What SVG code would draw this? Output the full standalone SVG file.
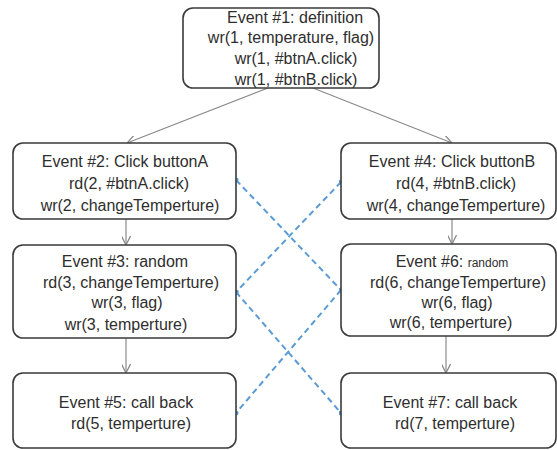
<svg xmlns="http://www.w3.org/2000/svg" width="557" height="450" viewBox="0 0 557 450">
  <style>
    .box { fill: #ffffff; stroke: #3a3a3a; stroke-width: 1.6; }
    .lbl { font-family: "Liberation Sans", Arial, sans-serif; font-size: 16px; fill: #2e2e2e; text-anchor: middle; }
    .small { font-size: 12px; }
    .flow { fill: none; stroke: #8a8a8a; stroke-width: 1.2; marker-end: url(#vee); }
    .dep { fill: none; stroke: #5b9bd5; stroke-width: 2; stroke-dasharray: 6 4; marker-start: url(#dot); marker-end: url(#dot); }
  </style>
  <defs>
    <marker id="vee" viewBox="0 0 10 10" refX="10" refY="5" markerWidth="9" markerHeight="9" markerUnits="userSpaceOnUse" orient="auto">
      <path d="M0,0 L10,5 L0,10" fill="none" stroke="#8a8a8a" stroke-width="1.4"/>
    </marker>
    <marker id="dot" viewBox="0 0 10 10" refX="5" refY="5" markerWidth="5" markerHeight="5" markerUnits="userSpaceOnUse">
      <circle cx="5" cy="5" r="5" fill="#5b9bd5"/>
    </marker>
  </defs>

  <g id="connectors">
    <line class="flow" x1="268" y1="88" x2="127" y2="143"/>
    <line class="flow" x1="313" y1="88" x2="452" y2="143"/>
    <line class="flow" x1="126" y1="219" x2="126" y2="245"/>
    <line class="flow" x1="126" y1="338" x2="126" y2="373"/>
    <line class="flow" x1="452" y1="219" x2="452" y2="244"/>
    <line class="flow" x1="446" y1="336" x2="446" y2="373"/>
    <line class="dep" x1="236" y1="180" x2="341" y2="290"/>
    <line class="dep" x1="341" y1="182" x2="236" y2="292"/>
    <line class="dep" x1="236" y1="292" x2="341" y2="413"/>
    <line class="dep" x1="341" y1="290" x2="236" y2="413"/>
  </g>

  <g id="event1">
    <rect class="box" x="183" y="8" width="196" height="80" rx="10"/>
    <text class="lbl" x="295" y="23">Event #1: definition</text>
    <text class="lbl" x="291" y="43">wr(1, temperature, flag)</text>
    <text class="lbl" x="296" y="64">wr(1, #btnA.click)</text>
    <text class="lbl" x="296" y="85">wr(1, #btnB.click)</text>
  </g>

  <g id="event2">
    <rect class="box" x="13" y="143" width="223" height="76" rx="10"/>
    <text class="lbl" x="125" y="167">Event #2: Click buttonA</text>
    <text class="lbl" x="129" y="189">rd(2, #btnA.click)</text>
    <text class="lbl" x="130" y="211">wr(2, changeTemperture)</text>
  </g>

  <g id="event3">
    <rect class="box" x="13" y="245" width="223" height="93" rx="10"/>
    <text class="lbl" x="125" y="267">Event #3: random</text>
    <text class="lbl" x="131" y="288">rd(3, changeTemperture)</text>
    <text class="lbl" x="127" y="308">wr(3, flag)</text>
    <text class="lbl" x="126" y="330">wr(3, temperture)</text>
  </g>

  <g id="event5">
    <rect class="box" x="13" y="373" width="223" height="75" rx="10"/>
    <text class="lbl" x="126" y="408">Event #5: call back</text>
    <text class="lbl" x="131" y="429">rd(5, temperture)</text>
  </g>

  <g id="event4">
    <rect class="box" x="341" y="143" width="215" height="76" rx="10"/>
    <text class="lbl" x="452" y="167">Event #4: Click buttonB</text>
    <text class="lbl" x="456" y="189">rd(4, #btnB.click)</text>
    <text class="lbl" x="456" y="211">wr(4, changeTemperture)</text>
  </g>

  <g id="event6">
    <rect class="box" x="341" y="244" width="215" height="92" rx="10"/>
    <text class="lbl" x="452" y="267">Event #6: <tspan class="small">random</tspan></text>
    <text class="lbl" x="458" y="288">rd(6, changeTemperture)</text>
    <text class="lbl" x="457" y="308">wr(6, flag)</text>
    <text class="lbl" x="451" y="328">wr(6, temperture)</text>
  </g>

  <g id="event7">
    <rect class="box" x="341" y="373" width="215" height="75" rx="10"/>
    <text class="lbl" x="450" y="408">Event #7: call back</text>
    <text class="lbl" x="455" y="429">rd(7, temperture)</text>
  </g>
</svg>
